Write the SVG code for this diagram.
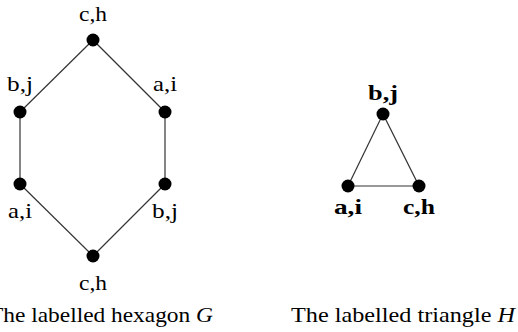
<svg xmlns="http://www.w3.org/2000/svg" width="518" height="332" viewBox="0 0 518 332">
<style>
.edge{stroke:#333;stroke-width:1.2;fill:none}
.node circle{fill:#000}
text{font-family:"Liberation Serif","DejaVu Serif",serif;font-size:21px;fill:#000;text-anchor:middle}
.b{font-weight:bold}
.cap{font-size:21px}
</style>
<rect width="518" height="332" fill="#fff"/>
<g id="connectors">
<line class="edge" x1="93" y1="40" x2="20" y2="112"/>
<line class="edge" x1="93" y1="40" x2="165" y2="112"/>
<line class="edge" x1="20" y1="112" x2="20" y2="184"/>
<line class="edge" x1="165" y1="112" x2="165" y2="184"/>
<line class="edge" x1="20" y1="184" x2="93" y2="256"/>
<line class="edge" x1="165" y1="184" x2="93" y2="256"/>
<line class="edge" x1="383" y1="114" x2="348" y2="186"/>
<line class="edge" x1="383" y1="114" x2="419" y2="186"/>
<line class="edge" x1="348" y1="186" x2="419" y2="186"/>
</g>
<g id="g-top" class="node"><circle cx="93" cy="40" r="6.5"/><text x="93" y="21" textLength="28" lengthAdjust="spacingAndGlyphs">c,h</text></g>
<g id="g-ul" class="node"><circle cx="20" cy="112" r="6.5"/><text x="20" y="91" textLength="26" lengthAdjust="spacingAndGlyphs">b,j</text></g>
<g id="g-ur" class="node"><circle cx="165" cy="112" r="6.5"/><text x="165" y="91" textLength="24" lengthAdjust="spacingAndGlyphs">a,i</text></g>
<g id="g-ll" class="node"><circle cx="20" cy="184" r="6.5"/><text x="20" y="218" textLength="24" lengthAdjust="spacingAndGlyphs">a,i</text></g>
<g id="g-lr" class="node"><circle cx="165" cy="184" r="6.5"/><text x="165" y="218" textLength="26" lengthAdjust="spacingAndGlyphs">b,j</text></g>
<g id="g-bot" class="node"><circle cx="93" cy="256" r="6.5"/><text x="93" y="290" textLength="28" lengthAdjust="spacingAndGlyphs">c,h</text></g>
<g id="h-top" class="node"><circle cx="383" cy="114" r="6.5"/><text class="b" x="383" y="100" textLength="30" lengthAdjust="spacingAndGlyphs">b,j</text></g>
<g id="h-left" class="node"><circle cx="348" cy="186" r="6.5"/><text class="b" x="348" y="214" textLength="28" lengthAdjust="spacingAndGlyphs">a,i</text></g>
<g id="h-right" class="node"><circle cx="419" cy="186" r="6.5"/><text class="b" x="419" y="214" textLength="32" lengthAdjust="spacingAndGlyphs">c,h</text></g>
<text class="cap" x="101" y="322" textLength="224" lengthAdjust="spacingAndGlyphs">The labelled hexagon <tspan font-style="italic">G</tspan></text>
<text class="cap" x="403" y="322" textLength="224" lengthAdjust="spacingAndGlyphs">The labelled triangle <tspan font-style="italic">H</tspan></text>
</svg>
